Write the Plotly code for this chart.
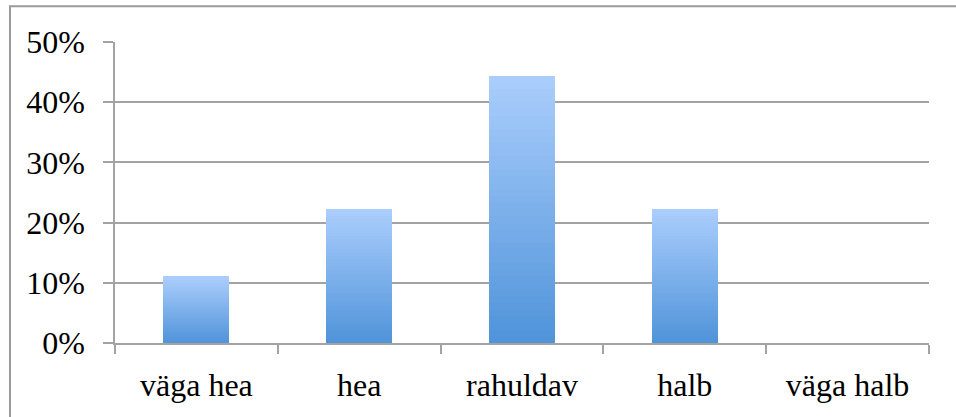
import plotly.graph_objects as go

categories = ["väga hea", "hea", "rahuldav", "halb", "väga halb"]
values = [0.111, 0.222, 0.444, 0.222, 0.0]
y_ticks = [0, 0.1, 0.2, 0.3, 0.4, 0.5]
y_tick_labels = ["0%", "10%", "20%", "30%", "40%", "50%"]

top_rgb = (170, 205, 252)
bottom_rgb = (80, 148, 218)
n_slices = 40

fig = go.Figure()
for i in range(n_slices):
    t = i / (n_slices - 1)
    c = tuple(round(bottom_rgb[k] + (top_rgb[k] - bottom_rgb[k]) * t) for k in range(3))
    fig.add_trace(go.Bar(
        x=categories,
        y=[v / n_slices for v in values],
        marker=dict(color="rgb(%d,%d,%d)" % c, line=dict(width=0)),
        showlegend=False,
        hoverinfo="skip",
    ))

font_family = "Liberation Serif"
grey = "#a3a3a3"
fs = 32

fig.update_layout(
    barmode="stack",
    bargap=0.595,
    width=956,
    height=417,
    margin=dict(l=115, r=27, t=42, b=74),
    paper_bgcolor="white",
    plot_bgcolor="white",
    font=dict(family=font_family, size=fs, color="black"),
    xaxis=dict(
        type="category",
        range=[-0.5, 4.5],
        showline=True,
        linecolor=grey,
        linewidth=1.5,
        ticks="outside",
        tickson="boundaries",
        ticklen=9,
        tickcolor=grey,
        tickwidth=1.5,
        showgrid=False,
        tickfont=dict(family=font_family, size=fs, color="black"),
        ticklabelstandoff=13,
    ),
    yaxis=dict(
        range=[0, 0.5],
        tickvals=y_ticks,
        ticktext=y_tick_labels,
        showline=True,
        linecolor=grey,
        linewidth=1.5,
        ticks="outside",
        ticklen=10,
        tickcolor=grey,
        tickwidth=1.5,
        showgrid=True,
        gridcolor=grey,
        gridwidth=1.5,
        zeroline=False,
        tickfont=dict(family=font_family, size=fs, color="black"),
        ticklabelstandoff=12,
    ),
    shapes=[dict(
        type="rect", xref="paper", yref="paper",
        x0=-0.129, x1=1.3, y0=-0.6, y1=1.1185,
        line=dict(color="#9a9a9a", width=2),
        fillcolor="rgba(0,0,0,0)", layer="below",
    )],
)

fig.write_html(
    "out.html",
    config={"displayModeBar": False},
    post_script="document.body.style.margin='0';document.body.style.overflow='hidden';",
)
